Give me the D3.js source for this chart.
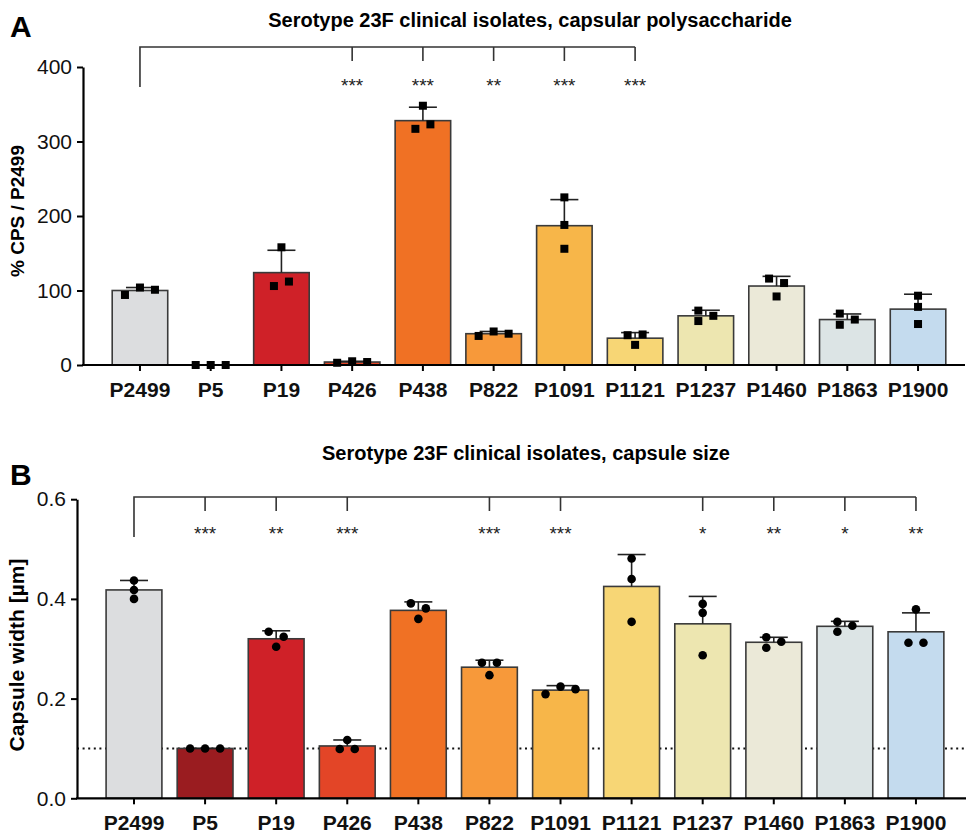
<!DOCTYPE html>
<html>
<head>
<meta charset="utf-8">
<script src="https://cdn.jsdelivr.net/npm/d3@7"></script>
<style>
  body { margin: 0; background: #fff; }
  svg { display: block; font-family: "Liberation Sans", Arial, Helvetica, sans-serif; }
</style>
</head>
<body>
<div id="vis"></div>
<script>
// isolates, same order in both panels
var isolates = ["P2499", "P5", "P19", "P426", "P438", "P822", "P1091", "P1121", "P1237", "P1460", "P1863", "P1900"];
var barColors = ["#dcdddf", "#9a1c20", "#cf2128", "#e34527", "#f07124", "#f7993a",
                 "#f7b649", "#f7d675", "#ede6b0", "#ebe9d8", "#dce4e5", "#c4dbee"];

// panel A: % CPS relative to P2499
var cpsMean = [100, 0, 124, 4, 328, 42, 187, 36, 66, 106, 61, 75];
var cpsSD = [4, 0, 30, 1, 18, 3, 35, 7.5, 7.5, 13, 7.5, 20];
var cpsPoints = [
  [94, 104, 101], [0, 0, 0], [106, 112, 158], [3, 5, 4],
  [317, 348, 323], [39, 45, 42], [225, 188, 156], [40, 27, 41],
  [73, 66, 59], [116, 110, 92], [69, 61, 54], [93, 78, 55]
];
var cpsTicks = [0, 100, 200, 300, 400];
var cpsSigGroups = ["P426", "P438", "P822", "P1091", "P1121"];
var cpsSigLabels = ["***", "***", "**", "***", "***"];

// panel B: capsule width in um
var widthMean = [0.418, 0.1, 0.320, 0.105, 0.377, 0.263, 0.217, 0.425, 0.350, 0.313, 0.345, 0.334];
var widthSD = [0.019, 0, 0.016, 0.012, 0.017, 0.014, 0.009, 0.064, 0.055, 0.010, 0.010, 0.038];
var widthPoints = [
  [0.437, 0.418, 0.400], [0.1, 0.1, 0.1], [0.334, 0.324, 0.304], [0.099, 0.117, 0.099],
  [0.391, 0.381, 0.360], [0.272, 0.247, 0.272], [0.209, 0.224, 0.219], [0.481, 0.440, 0.354],
  [0.390, 0.372, 0.287], [0.323, 0.314, 0.302], [0.354, 0.346, 0.334], [0.312, 0.379, 0.312]
];
var widthTicks = [0, 0.2, 0.4, 0.6];
var widthSigGroups = ["P5", "P19", "P426", "P822", "P1091", "P1237", "P1460", "P1863", "P1900"];
var widthSigLabels = ["***", "**", "***", "***", "***", "*", "**", "*", "**"];
var detectionLimit = 0.1;

var width = 966;
var height = 833;

var canvas = d3.select("#vis")
  .append("svg")
  .attr("width", width)
  .attr("height", height);

// spread replicate points sideways when they would overlap (prism-like)
function spreadPoints(vals, y, gap, spacing) {
  var pts = vals.map((v, i) => ({v: v, i: i, y: y(v), dx: 0}));
  var sorted = pts.slice().sort((a, b) => a.y - b.y);
  var clusters = [];
  sorted.forEach(p => {
    var last = clusters.length ? clusters[clusters.length - 1] : null;
    if (last && p.y - last[last.length - 1].y < gap) last.push(p);
    else clusters.push([p]);
  });
  clusters.forEach(c => {
    c.sort((a, b) => a.i - b.i);
    var cols = [];
    c.forEach(p => {
      var k = cols.findIndex(col => col.every(q => Math.abs(q.y - p.y) >= gap));
      if (k < 0) { cols.push([p]); k = cols.length - 1; }
      else cols[k].push(p);
      p.col = k;
    });
    c.forEach(p => { p.dx = (p.col - (cols.length - 1) / 2) * spacing; });
  });
  return pts;
}

function drawPanel(opt) {
  var g = canvas.append("g");

  var x = d3.scaleBand()
    .domain(isolates)
    .range([opt.bandStart, opt.bandEnd])
    .paddingInner(0.215)
    .paddingOuter(0.1075);

  var y = d3.scaleLinear()
    .domain([0, d3.max(opt.ticks)])
    .range([opt.bottom, opt.top]);

  var cx = d => x(d) + x.bandwidth() / 2;

  // title + panel letter
  g.append("text")
    .attr("x", opt.titleX)
    .attr("y", opt.titleY)
    .attr("text-anchor", "middle")
    .style("font-size", "20px")
    .style("font-weight", "bold")
    .text(opt.title);

  g.append("text")
    .attr("x", 10)
    .attr("y", opt.letterY)
    .style("font-size", "30px")
    .style("font-weight", "bold")
    .text(opt.letter);

  // reference line (drawn under the bars)
  if (opt.refLine != null) {
    g.append("line")
      .attr("x1", opt.axisX)
      .attr("x2", opt.axisEnd)
      .attr("y1", y(opt.refLine))
      .attr("y2", y(opt.refLine))
      .style("stroke", "#111")
      .style("stroke-width", 2)
      .style("stroke-dasharray", "2,3.6");
  }

  // bars
  g.selectAll(".bar")
    .data(isolates)
    .enter()
    .append("rect")
    .attr("class", "bar")
    .attr("x", d => x(d))
    .attr("width", x.bandwidth())
    .attr("y", (d, i) => y(opt.mean[i]))
    .attr("height", (d, i) => y(0) - y(opt.mean[i]))
    .style("fill", (d, i) => barColors[i])
    .style("stroke", "#3a3a3a")
    .style("stroke-width", 1.6);

  // error bars, upper half only
  var err = g.selectAll(".err")
    .data(isolates)
    .enter()
    .append("g")
    .attr("class", "err")
    .style("stroke", "#222")
    .style("stroke-width", 1.6);

  err.append("line")
    .attr("x1", d => cx(d))
    .attr("x2", d => cx(d))
    .attr("y1", (d, i) => y(opt.mean[i]))
    .attr("y2", (d, i) => y(opt.mean[i] + opt.sd[i]));

  err.append("line")
    .attr("x1", d => cx(d) - 14)
    .attr("x2", d => cx(d) + 14)
    .attr("y1", (d, i) => y(opt.mean[i] + opt.sd[i]))
    .attr("y2", (d, i) => y(opt.mean[i] + opt.sd[i]));

  // replicate points
  isolates.forEach((name, i) => {
    var pts = spreadPoints(opt.points[i], y, 8, 15);
    pts.forEach(p => {
      if (opt.marker === "square") {
        g.append("rect")
          .attr("x", cx(name) + p.dx - 4)
          .attr("y", p.y - 4)
          .attr("width", 8)
          .attr("height", 8)
          .style("fill", "#000");
      } else {
        g.append("circle")
          .attr("cx", cx(name) + p.dx)
          .attr("cy", p.y)
          .attr("r", 4.3)
          .style("fill", "#000");
      }
    });
  });

  // axes
  var yAxis = d3.axisLeft(y)
    .tickValues(opt.ticks)
    .tickFormat(opt.tickFormat)
    .tickSize(6)
    .tickSizeOuter(0)
    .tickPadding(5);

  var yg = g.append("g")
    .attr("transform", `translate(${opt.axisX}, 0)`)
    .call(yAxis);
  yg.select(".domain").style("stroke-width", 2.2);
  yg.selectAll(".tick line").style("stroke-width", 2);
  yg.selectAll("text")
    .style("font-size", "21px")
    .style("font-family", "inherit")
    .style("fill", "#111");

  var xAxis = d3.axisBottom(x)
    .tickSize(6)
    .tickSizeOuter(0)
    .tickPadding(11);

  var xg = g.append("g")
    .attr("transform", `translate(0, ${opt.bottom})`)
    .call(xAxis);
  xg.select(".domain").remove();
  xg.append("line")
    .attr("x1", opt.axisX - 1)
    .attr("x2", opt.axisEnd)
    .style("stroke", "#000")
    .style("stroke-width", 2.2);
  xg.selectAll(".tick line").style("stroke-width", 2);
  xg.selectAll("text")
    .style("font-size", "21px")
    .style("font-weight", "bold")
    .style("font-family", "inherit")
    .style("fill", "#111");

  g.append("text")
    .attr("transform", `translate(${opt.labelX}, ${opt.labelY}) rotate(-90)`)
    .attr("text-anchor", "middle")
    .style("font-size", opt.labelSize)
    .style("font-weight", "bold")
    .text(opt.yLabel);

  // significance bracket against P2499
  var first = cx(isolates[0]);
  var lastX = cx(opt.sigGroups[opt.sigGroups.length - 1]);
  var br = g.append("g")
    .style("stroke", "#333")
    .style("stroke-width", 1.6)
    .style("fill", "none");

  br.append("path")
    .attr("d", `M${first},${opt.bracketY + opt.bracketDrop} V${opt.bracketY} H${lastX}`);

  br.selectAll(".sigtick")
    .data(opt.sigGroups)
    .enter()
    .append("line")
    .attr("x1", d => cx(d))
    .attr("x2", d => cx(d))
    .attr("y1", opt.bracketY)
    .attr("y2", opt.bracketY + 14);

  g.selectAll(".star")
    .data(opt.sigGroups)
    .enter()
    .append("text")
    .attr("x", d => cx(d))
    .attr("y", opt.starY)
    .attr("text-anchor", "middle")
    .style("font-size", "19px")
    .style("fill", "#222")
    .text((d, i) => opt.sigLabels[i]);
}

drawPanel({
  letter: "A", letterY: 37,
  title: "Serotype 23F clinical isolates, capsular polysaccharide",
  titleX: 530, titleY: 27,
  axisX: 83, axisEnd: 965,
  top: 67, bottom: 365,
  bandStart: 104.6, bandEnd: 953.4,
  ticks: cpsTicks, tickFormat: d3.format("d"),
  mean: cpsMean, sd: cpsSD, points: cpsPoints,
  marker: "square",
  yLabel: "% CPS / P2499", labelX: 24, labelY: 211, labelSize: "19px",
  sigGroups: cpsSigGroups, sigLabels: cpsSigLabels,
  bracketY: 47, bracketDrop: 40, starY: 92,
  refLine: null
});

drawPanel({
  letter: "B", letterY: 485,
  title: "Serotype 23F clinical isolates, capsule size",
  titleX: 526, titleY: 460,
  axisX: 77, axisEnd: 966,
  top: 499.2, bottom: 798.3,
  bandStart: 98.45, bandEnd: 951.5,
  ticks: widthTicks, tickFormat: d3.format(".1f"),
  mean: widthMean, sd: widthSD, points: widthPoints,
  marker: "circle",
  yLabel: "Capsule width [µm]", labelX: 24, labelY: 655, labelSize: "21px",
  sigGroups: widthSigGroups, sigLabels: widthSigLabels,
  bracketY: 497, bracketDrop: 40, starY: 540,
  refLine: detectionLimit
});
</script>
</body>
</html>
